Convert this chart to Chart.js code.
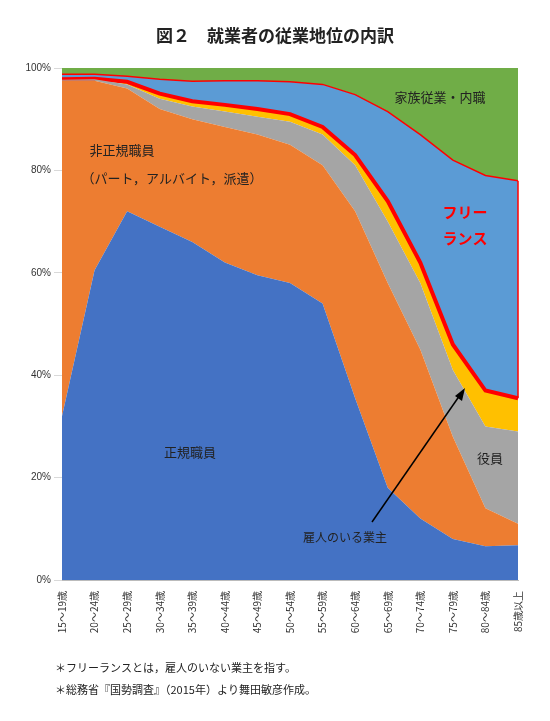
<!DOCTYPE html>
<html><head><meta charset="utf-8">
<script src="https://cdn.jsdelivr.net/npm/chart.js@4/dist/chart.umd.min.js"></script>
<style>body{margin:0;background:#fff}#w{width:550px;height:721px}</style></head>
<body><div id="w"><canvas id="c"></canvas></div>
<script>
const categories=["15～19歳","20～24歳","25～29歳","30～34歳","35～39歳","40～44歳","45～49歳","50～54歳","55～59歳","60～64歳","65～69歳","70～74歳","75～79歳","80～84歳","85歳以上"];
// cumulative boundaries (%)
const regular=[32,60.5,72,69,66,62,59.5,58,54,35.5,18,12,8,6.6,6.8];
const nonRegularTop=[97.5,97.5,96,92,90,88.5,87,85,81,72,58,45,28,14,11];
const executiveTop=[97.7,97.8,96.8,94,92.5,91.5,90.5,89.5,87,81,70,58,41,30,29];
const employerTop=[97.8,97.9,97.3,95,93.5,92.8,92,91,88.5,83,74,62,46,37,35.5];
const freelanceTop=[98.8,98.8,98.4,97.8,97.4,97.5,97.5,97.3,96.8,94.8,91.5,87,82,79,78];
const familyTop=categories.map(()=>100);
const yTicks=[0,20,40,60,80,100];
const ds=(d,bg,bc,bw,fill)=>({data:d,backgroundColor:bg,borderColor:bc,borderWidth:bw,fill:fill,pointRadius:0,tension:0});
const edge=categories.map((c,i)=>i===categories.length-1?null:null);
const ann={id:'ann',afterDraw(ch){const g=ch.ctx,x=ch.scales.x,y=ch.scales.y;
 // right edge of freelance region
 const n=categories.length-1;g.save();g.strokeStyle='#ff0000';g.lineWidth=1.5;g.beginPath();g.moveTo(x.getPixelForValue(n),y.getPixelForValue(employerTop[n]));g.lineTo(x.getPixelForValue(n),y.getPixelForValue(freelanceTop[n]));g.stroke();
 g.textAlign='center';g.textBaseline='middle';
 g.font='bold 17px "Noto Sans CJK JP"';g.fillStyle='#222';g.fillText('図２　就業者の従業地位の内訳',275,36);
 g.font='13px "Noto Sans CJK JP"';g.fillStyle='#222';
 g.fillText('家族従業・内職',440,97);
 g.fillText('非正規職員',122,150);g.fillText('（パート，アルバイト，派遣）',172,178);
 g.fillText('正規職員',190,452);g.fillText('役員',490,458);
 g.font='12px "Noto Sans CJK JP"';g.fillText('雇人のいる業主',345,537);
 g.font='bold 15px "Noto Sans CJK JP"';g.fillStyle='#ff0000';g.fillText('フリー',465,212);g.fillText('ランス',465,238);
 g.strokeStyle='#000';g.fillStyle='#000';g.lineWidth=1.5;g.beginPath();g.moveTo(372,522);g.lineTo(460,395);g.stroke();
 g.beginPath();g.moveTo(465,388);g.lineTo(455,396);g.lineTo(462,401);g.closePath();g.fill();
 g.textAlign='left';g.font='11px "Noto Sans CJK JP"';g.fillStyle='#222';
 g.fillText('＊フリーランスとは，雇人のいない業主を指す。',55,668);
 g.fillText('＊総務省『国勢調査』（2015年）より舞田敏彦作成。',55,690);
 g.restore();}};
new Chart(document.getElementById('c'),{type:'line',
 data:{labels:categories,datasets:[
  ds(regular,'#4472c4','#4472c4',0,'origin'),
  ds(nonRegularTop,'#ed7d31','#ed7d31',0,'-1'),
  ds(executiveTop,'#a5a5a5','#a5a5a5',0,'-1'),
  ds(employerTop,'#ffc000','#ff0000',4,'-1'),
  ds(freelanceTop,'#5b9bd5','#ff0000',1.5,'-1'),
  ds(familyTop,'#70ad47','#70ad47',0,'-1')]},
 options:{responsive:true,maintainAspectRatio:false,animation:false,
  layout:{padding:{top:68,right:32,bottom:71,left:0}},
  plugins:{legend:{display:false},tooltip:{enabled:false}},
  scales:{x:{offset:false,grid:{display:false},border:{color:'#bbb'},
    ticks:{maxRotation:90,minRotation:90,font:{size:10,family:'"Noto Sans CJK JP"'},color:'#333',autoSkip:false},
    afterFit(s){s.height=70;}},
   y:{min:0,max:100,afterBuildTicks(s){s.ticks=yTicks.map(v=>({value:v}));},
    grid:{color:'#d9d9d9'},border:{display:false},
    ticks:{callback:v=>v+'%',font:{size:10},color:'#333'},afterFit(s){s.width=62;}}}},
 plugins:[ann]});
</script></body></html>
